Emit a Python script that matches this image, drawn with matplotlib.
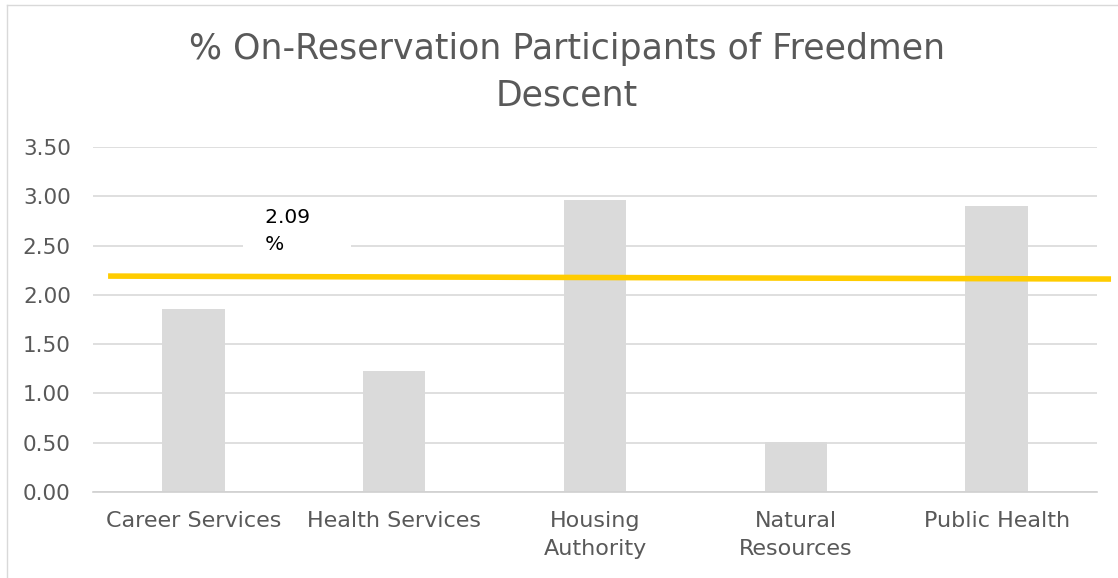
import matplotlib
matplotlib.use("Agg")
import matplotlib.pyplot as plt
from matplotlib.lines import Line2D

plt.rcParams['font.family'] = ['DejaVu Sans']

categories = ["Career Services", "Health Services", "Housing\nAuthority",
              "Natural\nResources", "Public Health"]
values = [1.86, 1.23, 2.96, 0.51, 2.90]
yticks = [0.0, 0.5, 1.0, 1.5, 2.0, 2.5, 3.0, 3.5]

# yellow average line (drawn as a slightly tilted shape in the original)
line_x = [-0.425, 4.57]
line_y = [2.19, 2.16]
avg_value = "2.09"

grey_txt = "#595959"
grid_c = "#D9D9D9"

fig = plt.figure(figsize=(11.18, 5.78), dpi=100)
ax = fig.add_axes([0.0832, 0.1488, 0.898, 0.597])

x = range(len(categories))
ax.bar(x, values, width=0.31, color="#DADADA", zorder=2)
ax.plot(line_x, line_y, color="#FFCC00", lw=4, solid_capstyle='butt',
        zorder=4, clip_on=False)

# label with a wide white box (spaces widen the box sideways)
ax.text(0.26, 2.88, "   " + avg_value + "      \n   %", fontsize=14.5,
        color="black", va='top', ha='left', linespacing=1.55, zorder=3,
        bbox=dict(facecolor='white', edgecolor='none', pad=2))

ax.set_xlim(-0.5, 4.5)
ax.set_ylim(0, 3.5)
ax.set_yticks(yticks)
ax.set_yticklabels([f"{v:.2f}" for v in yticks], fontsize=15.5, color=grey_txt)
ax.set_xticks(list(x))
ax.set_xticklabels(categories, fontsize=16, color=grey_txt, linespacing=1.5)
ax.tick_params(length=0)
ax.tick_params(axis='x', pad=14)
ax.tick_params(axis='y', pad=16)

ax.grid(axis='y', color=grid_c, lw=1.2, zorder=0)
ax.set_axisbelow(True)
for s in ['top', 'right', 'left']:
    ax.spines[s].set_visible(False)
ax.spines['bottom'].set_color("#D0D0D0")
ax.spines['bottom'].set_linewidth(1.2)

fig.text(0.507, 0.875, "% On-Reservation Participants of Freedmen\nDescent",
         ha='center', va='center', fontsize=25, color=grey_txt,
         linespacing=1.43)

# chart border (left and top edges visible)
fig.add_artist(Line2D([7 / 1118, 7 / 1118], [0, 1 - 5 / 578],
                      transform=fig.transFigure, color="#D9D9D9", lw=1))
fig.add_artist(Line2D([7 / 1118, 1], [1 - 5 / 578, 1 - 5 / 578],
                      transform=fig.transFigure, color="#D9D9D9", lw=1))

fig.savefig("out.png", dpi=100)
